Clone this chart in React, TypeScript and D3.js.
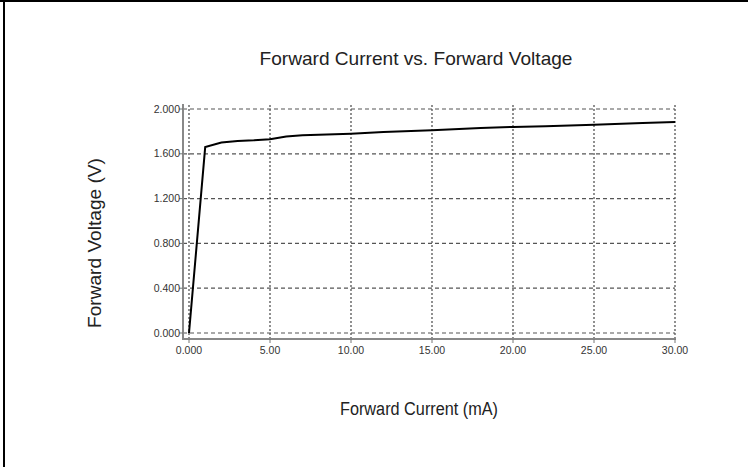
import React from "react";
import * as d3 from "d3";

const currentMA: number[] = [0, 1, 2, 3, 4, 5, 6, 7, 8, 10, 12, 15, 18, 20, 22, 25, 28, 30];
const voltageV: number[] = [0, 1.66, 1.70, 1.715, 1.72, 1.73, 1.755, 1.765, 1.77, 1.78, 1.795, 1.81, 1.83, 1.84, 1.845, 1.86, 1.875, 1.885];
const xTicks: number[] = [0, 5, 10, 15, 20, 25, 30];
const xTickLabels: string[] = ["0.000", "5.00", "10.00", "15.00", "20.00", "25.00", "30.00"];
const yTicks: number[] = [0, 0.4, 0.8, 1.2, 1.6, 2.0];
const yTickLabels: string[] = ["0.000", "0.400", "0.800", "1.200", "1.600", "2.000"];
const title = "Forward Current vs. Forward Voltage";
const xTitle = "Forward Current (mA)";
const yTitle = "Forward Voltage (V)";

export default function App() {
  const W = 748, H = 467;
  const x = d3.scaleLinear().domain([0, 30]).range([189, 675]);
  const y = d3.scaleLinear().domain([0, 2]).range([333, 109]);
  const axisX = 183, axisY = 339;
  const line = d3.line<number>().x((_, i) => x(currentMA[i])).y((d) => y(d));
  const tickFont = "'Liberation Sans Narrow', 'Arial Narrow', 'Liberation Sans', Arial, sans-serif";
  const mainFont = "'Liberation Sans', Arial, sans-serif";
  const grid = "#555";
  return (
    <svg width={W} height={H} style={{ position: "absolute", left: 0, top: 0, background: "#fff" }}>
      <rect x={0} y={0} width={W} height={H} fill="#fff" />
      <line x1={0} x2={W} y1={1} y2={1} stroke="#000" strokeWidth={2} />
      <line x1={4} x2={4} y1={0} y2={H} stroke="#000" strokeWidth={2} />
      <text x={416} y={65} textAnchor="middle" fontFamily={mainFont} fontSize={19} fill="#222" textLength={313} lengthAdjust="spacingAndGlyphs">{title}</text>
      <text x={419} y={415} textAnchor="middle" fontFamily={mainFont} fontSize={18} fill="#222" textLength={158} lengthAdjust="spacingAndGlyphs">{xTitle}</text>
      <text transform={`translate(101,243) rotate(-90)`} textAnchor="middle" fontFamily={mainFont} fontSize={19} fill="#222" textLength={170} lengthAdjust="spacingAndGlyphs">{yTitle}</text>
      {yTicks.map((t) => (
        <line key={"hg" + t} x1={axisX} x2={x(30)} y1={y(t)} y2={y(t)} stroke={grid} strokeWidth={1.2} strokeDasharray="4,3" />
      ))}
      {xTicks.map((t) => (
        <line key={"vg" + t} x1={x(t)} x2={x(t)} y1={y(2) - 4} y2={axisY} stroke={grid} strokeWidth={1.3} strokeDasharray="2,2" />
      ))}
      <line x1={axisX} x2={axisX} y1={104} y2={axisY + 1} stroke="#888" strokeWidth={2} />
      <line x1={axisX - 1} x2={x(30) + 1} y1={axisY} y2={axisY} stroke="#888" strokeWidth={2} />
      {yTicks.map((t, i) => (
        <g key={"yt" + t}>
          <line x1={axisX - 4} x2={axisX} y1={y(t)} y2={y(t)} stroke="#777" />
          <text x={axisX - 3} y={y(t) + 3.5} textAnchor="end" fontFamily={tickFont} fontSize={10.5} fill="#333">{yTickLabels[i]}</text>
        </g>
      ))}
      {xTicks.map((t, i) => (
        <g key={"xt" + t}>
          <line x1={x(t)} x2={x(t)} y1={axisY} y2={axisY + 4} stroke="#777" />
          <text x={x(t)} y={axisY + 15} textAnchor="middle" fontFamily={tickFont} fontSize={10.5} fill="#333">{xTickLabels[i]}</text>
        </g>
      ))}
      <path d={line(voltageV) || ""} fill="none" stroke="#000" strokeWidth={2} />
    </svg>
  );
}
